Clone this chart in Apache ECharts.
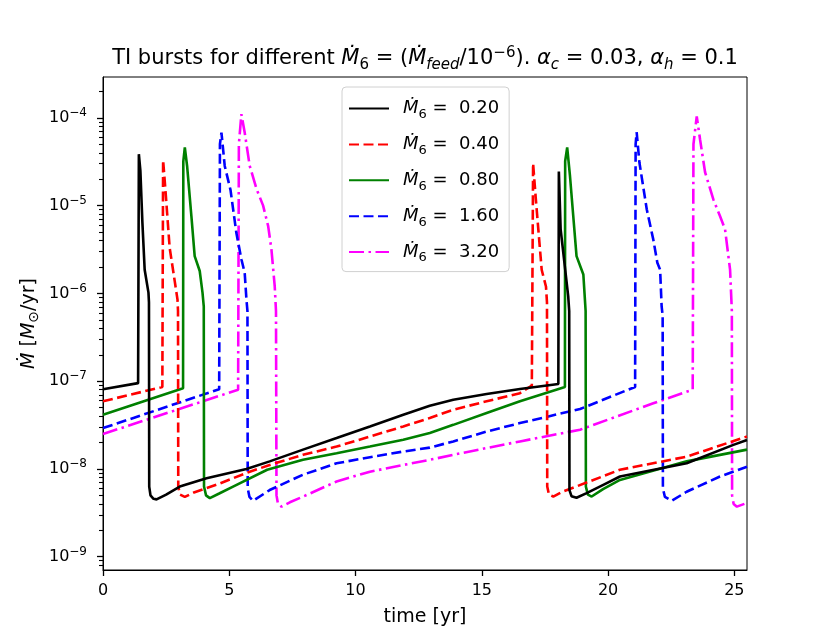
<!DOCTYPE html>
<html>
<head>
<meta charset="utf-8">
<title>TI bursts</title>
<script src="https://cdn.jsdelivr.net/npm/echarts@6.0.0/dist/echarts.min.js"></script>
<style>html,body{margin:0;padding:0;background:#fff;}</style>
</head>
<body>
<div id="main" style="width:830px;height:641px;"></div>
<script>
// legend values of Mdot_6
var feedRates = ['0.20', '0.40', '0.80', '1.60', '3.20'];

// [time (yr), Mdot (Msun/yr)]
var mdot020 = [
  [0, 8.1e-8], [1.39, 9.5e-8], [1.42, 3.85e-5], [1.48, 2.5e-5], [1.56, 6.4e-6], [1.65, 1.86e-6],
  [1.80, 1.02e-6], [1.82, 7.9e-7], [1.83, 6.3e-9], [1.88, 5.0e-9], [2.0, 4.57e-9], [2.12, 4.5e-9],
  [2.5, 5.1e-9], [3.04, 6.3e-9], [4.1, 7.85e-9], [5.68, 1.0e-8], [6.6, 1.22e-8], [7.92, 1.66e-8],
  [9.25, 2.25e-8], [10.57, 3.05e-8], [11.89, 4.15e-8], [12.94, 5.25e-8], [13.87, 6.15e-8],
  [15.19, 7.15e-8], [16.51, 8.15e-8], [18.03, 9.3e-8], [18.05, 2.44e-5], [18.12, 5.4e-6],
  [18.42, 9.3e-7], [18.46, 6.3e-7], [18.47, 5.75e-9], [18.55, 4.9e-9], [18.75, 4.7e-9],
  [19.15, 5.3e-9], [19.81, 6.6e-9], [20.47, 8.2e-9], [23.11, 1.16e-8], [24.96, 1.88e-8], [25.5, 2.14e-8]
];
var mdot040 = [
  [0, 5.9e-8], [2.35, 8.6e-8], [2.38, 3.3e-5], [2.47, 1.53e-5], [2.64, 3.3e-6], [2.84, 1.38e-6],
  [2.95, 8.5e-7], [2.97, 6.3e-7], [2.98, 6.3e-9], [3.05, 5.1e-9], [3.24, 4.8e-9], [3.6, 5.4e-9],
  [4.49, 6.6e-9], [5.81, 9.3e-9], [6.6, 1.11e-8], [7.92, 1.45e-8], [9.25, 1.8e-8], [10.57, 2.34e-8],
  [11.89, 3.05e-8], [12.94, 3.8e-8], [13.87, 4.73e-8], [15.19, 5.9e-8], [16.51, 7.3e-8],
  [16.98, 8.9e-8], [17.03, 3.04e-5], [17.14, 1.17e-5], [17.37, 1.86e-6], [17.54, 1.2e-6],
  [17.58, 7.9e-7], [17.59, 6.3e-9], [17.66, 5.1e-9], [17.83, 4.85e-9], [18.2, 5.5e-9],
  [20.47, 9.8e-9], [23.11, 1.38e-8], [25.5, 2.34e-8]
];
var mdot080 = [
  [0, 4.15e-8], [3.17, 8.3e-8], [3.18, 3.2e-5], [3.24, 4.6e-5], [3.33, 2.83e-5], [3.50, 7.6e-6],
  [3.63, 2.66e-6], [3.83, 1.8e-6], [3.94, 1.02e-6], [3.99, 7.1e-7], [4.0, 6.3e-9], [4.08, 5.0e-9],
  [4.23, 4.65e-9], [4.6, 5.25e-9], [5.15, 6.3e-9], [6.5, 9.8e-9], [7.92, 1.27e-8], [9.25, 1.51e-8],
  [10.57, 1.8e-8], [11.89, 2.15e-8], [12.94, 2.57e-8], [13.87, 3.18e-8], [15.19, 4.34e-8],
  [16.51, 5.9e-8], [18.29, 8.6e-8], [18.30, 3.2e-5], [18.38, 4.6e-5], [18.49, 2.19e-5],
  [18.75, 2.66e-6], [19.02, 1.64e-6], [19.09, 7.8e-7], [19.11, 6.3e-7], [19.12, 6.3e-9],
  [19.2, 5.1e-9], [19.35, 4.85e-9], [19.8, 5.9e-9], [20.47, 7.5e-9], [23.11, 1.22e-8], [25.5, 1.66e-8]
];
var mdot160 = [
  [0, 2.92e-8], [4.6, 8.1e-8], [4.63, 5e-5], [4.69, 6.8e-5], [4.82, 2.83e-5], [5.05, 1.5e-5],
  [5.28, 4.9e-6], [5.48, 2.45e-6], [5.61, 1.72e-6], [5.68, 8.5e-7], [5.72, 6.3e-7], [5.73, 6e-9],
  [5.8, 4.8e-9], [5.94, 4.33e-9], [6.6, 5.75e-9], [7.92, 8.6e-9], [9.25, 1.16e-8], [10.57, 1.36e-8],
  [11.89, 1.58e-8], [12.94, 1.75e-8], [13.87, 2.06e-8], [15.19, 2.67e-8], [16.51, 3.33e-8],
  [18.89, 4.82e-8], [21.07, 8.6e-8], [21.09, 5e-5], [21.13, 6.9e-5], [21.24, 3.1e-5],
  [21.53, 9.1e-6], [21.79, 4.1e-6], [21.95, 2.24e-6], [22.06, 1.86e-6], [22.12, 7.1e-7],
  [22.16, 5.6e-7], [22.17, 6e-9], [22.25, 4.8e-9], [22.52, 4.33e-9], [23.11, 5.5e-9],
  [24.43, 8.2e-9], [25.5, 1.06e-8]
];
var mdot320 = [
  [0, 2.5e-8], [5.35, 8e-8], [5.38, 5e-5], [5.48, 1.1e-4], [5.61, 6.8e-5], [5.81, 2.83e-5],
  [6.08, 1.55e-5], [6.34, 1.0e-5], [6.54, 5.85e-6], [6.67, 3.16e-6], [6.80, 1.2e-6], [6.85, 6.3e-7],
  [6.87, 5e-9], [6.93, 4e-9], [7.07, 3.72e-9], [7.4, 4.17e-9], [7.92, 4.84e-9], [9.25, 7.2e-9],
  [10.57, 9.3e-9], [11.89, 1.11e-8], [12.94, 1.27e-8], [13.87, 1.45e-8], [15.19, 1.73e-8],
  [16.51, 2.06e-8], [18.89, 2.8e-8], [21.79, 5.6e-8], [23.35, 8e-8], [23.38, 5e-5], [23.51, 1.04e-4],
  [23.64, 5.7e-5], [23.84, 2.4e-5], [24.17, 1.17e-5], [24.43, 7.6e-6], [24.63, 5.4e-6],
  [24.83, 1.86e-6], [24.9, 6.3e-7], [24.91, 5e-9], [24.97, 4e-9], [25.1, 3.72e-9], [25.5, 4.1e-9]
];

var xTicks = [0, 5, 10, 15, 20, 25];
var yMajorTicks = [1e-9, 1e-8, 1e-7, 1e-6, 1e-5, 1e-4];

var seriesData = [mdot020, mdot040, mdot080, mdot160, mdot320];
var colors = ['#000000', '#ff0000', '#008000', '#0000ff', '#ff00ff'];
var dashes = ['solid', [10, 4.5], 'solid', [10, 4.5], [15, 4.5, 2.5, 4.5]];

var FONT = 'DejaVu Sans';
var Y_MIN = 7.06e-10, Y_MAX = 2.92e-4;
var GRID_LEFT = 103;

// minor log ticks (2..9 x each decade) that fall inside the y range
var yMinorTicks = [];
[1e-10].concat(yMajorTicks).forEach(function (d) {
  for (var k = 2; k <= 9; k++) {
    var v = k * d;
    if (v >= Y_MIN && v <= Y_MAX) yMinorTicks.push(v);
  }
});

var myChart = echarts.init(document.getElementById('main'));

// short minor ticks left of the y axis, y placed by the log scale
var minorTickLines = yMinorTicks.map(function (v) {
  return [
    { xAxis: 0, yAxis: v, x: GRID_LEFT - 4 },
    { xAxis: 0, yAxis: v, x: GRID_LEFT }
  ];
});

var series = seriesData.map(function (d, i) {
  var s = {
    name: feedRates[i],
    type: 'line',
    data: d,
    symbol: 'none',
    showSymbol: false,
    lineStyle: { color: colors[i], width: 2.6, type: dashes[i], cap: 'butt' },
    itemStyle: { color: colors[i] },
    z: 10 - i
  };
  if (i === 0) {
    s.clip = false;
    s.markLine = {
      silent: true,
      symbol: ['none', 'none'],
      label: { show: false },
      lineStyle: { color: '#000', width: 1.1, type: 'solid' },
      emphasis: { disabled: true },
      animation: false,
      data: minorTickLines
    };
  }
  return s;
});

function txt(size, extra) {
  var s = { fontFamily: FONT, fontSize: size, fontWeight: 'normal', color: '#000' };
  for (var k in extra) s[k] = extra[k];
  return s;
}

var option = {
  animation: false,
  backgroundColor: '#fff',
  title: {
    text: '{n|TI bursts for different }{i|Ṁ}{s|6}{n| = (}{i|Ṁ}{si|feed}{n|/10}{sup|−6}{n|). }' +
          '{i|α}{si|c}{n| = 0.03, }{i|α}{si|h}{n| = 0.1}',
    left: 425,
    top: 45,
    padding: 0,
    textAlign: 'center',
    textStyle: {
      fontWeight: 'normal',
      rich: {
        n: txt(21, { lineHeight: 28 }),
        i: txt(21, { fontStyle: 'italic', lineHeight: 28 }),
        s: txt(15, { padding: [12, 0, 0, 0], lineHeight: 28 }),
        si: txt(15, { fontStyle: 'italic', padding: [12, 0, 0, 0], lineHeight: 28 }),
        sup: txt(15, { padding: [0, 0, 12, 0], lineHeight: 28 })
      }
    }
  },
  legend: {
    data: feedRates,
    orient: 'vertical',
    left: 342,
    top: 87,
    padding: [9, 10, 7, 6],
    itemWidth: 40,
    itemHeight: 26,
    itemGap: 10.9,
    itemStyle: { opacity: 0 },
    backgroundColor: 'rgba(255,255,255,0.8)',
    borderColor: '#d0d0d0',
    borderWidth: 1,
    borderRadius: 4,
    formatter: function (name) {
      return '{i|Ṁ}{s|6}{n| =  ' + name + '}';
    },
    textStyle: {
      rich: {
        i: txt(18, { fontStyle: 'italic', lineHeight: 26, padding: [0, 0, 0, 9] }),
        s: txt(13, { lineHeight: 26, padding: [12, 0, 0, 0] }),
        n: txt(18, { lineHeight: 26 })
      }
    }
  },
  grid: {
    left: GRID_LEFT,
    right: 83,
    top: 77,
    bottom: 71,
    show: true,
    borderColor: '#000',
    borderWidth: 1,
    backgroundColor: 'transparent'
  },
  xAxis: {
    type: 'value',
    min: 0,
    max: 25.5,
    interval: 5,
    name: 'time [yr]',
    nameLocation: 'middle',
    nameGap: 38,
    nameMoveOverlap: false,
    nameTextStyle: txt(19, {}),
    axisLine: { show: true, lineStyle: { color: '#000', width: 1 } },
    axisTick: { show: true, length: 6, lineStyle: { color: '#000', width: 1.3 }, customValues: xTicks },
    axisLabel: { fontFamily: FONT, fontSize: 16, color: '#000', margin: 13, customValues: xTicks },
    splitLine: { show: false }
  },
  yAxis: {
    type: 'log',
    logBase: 10,
    min: Y_MIN,
    max: Y_MAX,
    name: '{i|Ṁ}{n| [}{i|M}{s|⊙}{n|/yr]}',
    nameLocation: 'middle',
    nameGap: 60,
    nameMoveOverlap: false,
    nameRotate: 90,
    nameTextStyle: {
      rich: {
        i: txt(19, { fontStyle: 'italic', lineHeight: 28 }),
        n: txt(19, { lineHeight: 28 }),
        s: txt(14, { lineHeight: 28, padding: [10, 0, 0, 0] })
      }
    },
    axisLine: { show: true, lineStyle: { color: '#000', width: 1 } },
    axisTick: { show: true, length: 6, lineStyle: { color: '#000', width: 1.3 }, customValues: yMajorTicks },
    axisLabel: {
      margin: 16,
      customValues: yMajorTicks,
      formatter: function (v) {
        var e = Math.round(Math.log10(v));
        return '{b|10}{sup|−' + (-e) + '}';
      },
      rich: {
        b: txt(16, {}),
        sup: txt(12, { padding: [0, 0, 10, 0] })
      }
    },
    splitLine: { show: false }
  },
  series: series
};

myChart.setOption(option);
</script>
</body>
</html>
